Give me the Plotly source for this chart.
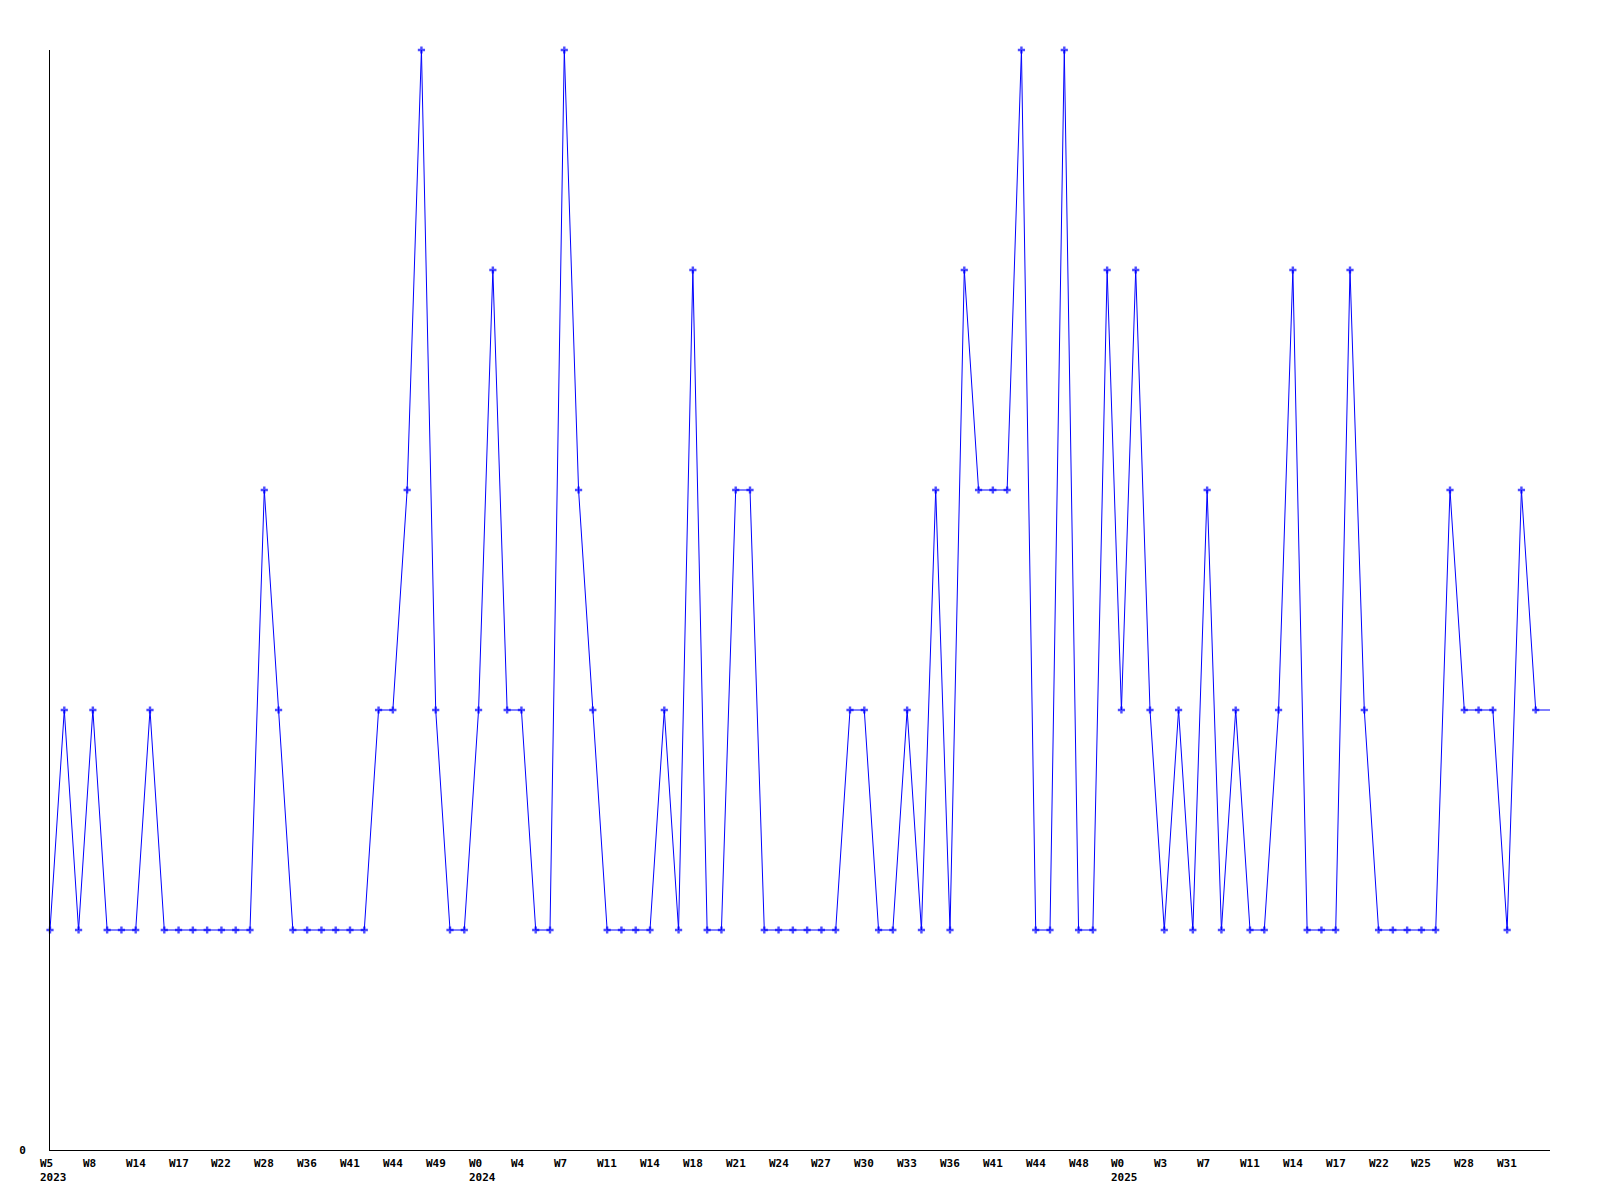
import plotly.graph_objects as go

# Weekly values (one per week, 106 points)
values = [
    1, 2, 1, 2, 1, 1, 1, 2, 1, 1,
    1, 1, 1, 1, 1, 3, 2, 1, 1, 1,
    1, 1, 1, 2, 2, 3, 5, 2, 1, 1,
    2, 4, 2, 2, 1, 1, 5, 3, 2, 1,
    1, 1, 1, 2, 1, 4, 1, 1, 3, 3,
    1, 1, 1, 1, 1, 1, 2, 2, 1, 1,
    2, 1, 3, 1, 4, 3, 3, 3, 5, 1,
    1, 5, 1, 1, 4, 2, 4, 2, 1, 2,
    1, 3, 1, 2, 1, 1, 2, 4, 1, 1,
    1, 4, 2, 1, 1, 1, 1, 1, 3, 2,
    2, 2, 1, 3, 2, 2,
]

# Tick labels shown every 3rd point
tick_labels = [
    "W5<br>2023", "W8", "W14", "W17", "W22", "W28", "W36", "W41", "W44", "W49",
    "W0<br>2024", "W4", "W7", "W11", "W14", "W18", "W21", "W24", "W27", "W30",
    "W33", "W36", "W41", "W44", "W48",
    "W0<br>2025", "W3", "W7", "W11", "W14", "W17", "W22", "W25", "W28", "W31",
]
tick_step = 3

x = list(range(len(values)))
sizes = [6] * len(values)
sizes[-1] = 0

fig = go.Figure()
fig.add_trace(go.Scatter(
    x=x, y=values, mode="lines+markers",
    line=dict(color="#0000ff", width=1),
    marker=dict(symbol="cross", size=sizes, color="#0000ff", line=dict(width=0)),
    cliponaxis=False, showlegend=False, hoverinfo="skip",
))

font = dict(family="DejaVu Sans Mono", size=11, color="black", weight="bold")
for k, lab in enumerate(tick_labels):
    fig.add_annotation(
        x=k * tick_step, y=0, xref="x", yref="y",
        text=lab, showarrow=False, xanchor="left", yanchor="top",
        align="left", xshift=-12, yshift=-5, font=font,
    )

fig.update_layout(
    width=1584, height=1184,
    margin=dict(l=42, r=42, t=42, b=42),
    paper_bgcolor="white", plot_bgcolor="white",
    font=font,
    xaxis=dict(range=[0, len(values) - 1], showgrid=False, zeroline=False,
               showline=True, linecolor="black", linewidth=1,
               showticklabels=False, ticks=""),
    yaxis=dict(range=[0, 5], showgrid=False, zeroline=False,
               showline=True, linecolor="black", linewidth=1,
               tickvals=[0], ticktext=["0"], ticks="",
               ticklabelstandoff=21, tickfont=font),
)

fig.write_html("out.html")
